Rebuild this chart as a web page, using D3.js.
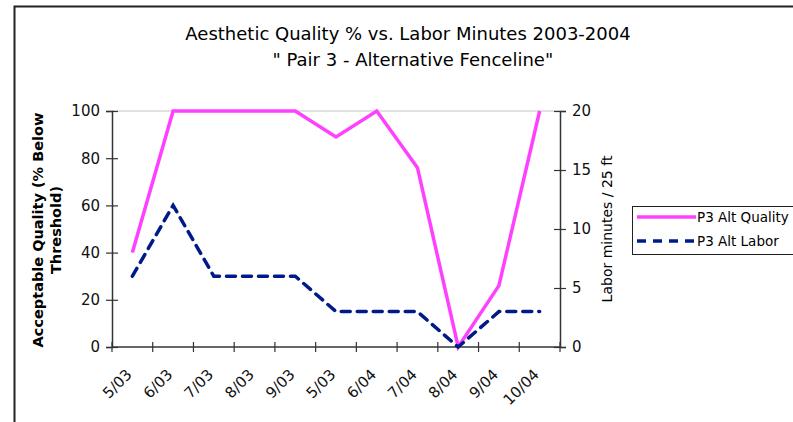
<!DOCTYPE html>
<html>
<head>
<meta charset="utf-8">
<script src="https://cdn.jsdelivr.net/npm/d3@7/dist/d3.min.js"></script>
<style>
  html, body { margin: 0; padding: 0; background: #fff; }
  svg { display: block; font-family: "DejaVu Sans", sans-serif; }
</style>
</head>
<body>
<svg id="chart" width="793" height="422"></svg>
<script>
// Monthly survey periods
const months = ["5/03", "6/03", "7/03", "8/03", "9/03", "5/03", "6/04", "7/04", "8/04", "9/04", "10/04"];
// Acceptable quality, % below threshold (left axis)
const qualityValues = [40, 100, 100, 100, 100, 89, 100, 76, 0, 26, 100];
// Labor minutes per 25 ft (right axis)
const laborValues = [6, 12, 6, 6, 6, 3, 3, 3, 0, 3, 3];
const leftTicks = [0, 20, 40, 60, 80, 100];
const rightTicks = [0, 5, 10, 15, 20];
const seriesNames = ["P3 Alt Quality", "P3 Alt Labor"];

const svg = d3.select("#chart");
const plot = { left: 112, right: 560, top: 111, bottom: 347 };

// Outer chart frame (only top and left edges fall inside the view)
svg.append("path")
  .attr("d", "M14.5,422 L14.5,6.5 L793,6.5")
  .attr("fill", "none").attr("stroke", "#222").attr("stroke-width", 2);

// Title
const title = svg.append("text").attr("text-anchor", "middle")
  .attr("font-size", 18).attr("fill", "#000");
title.append("tspan").attr("x", 408).attr("y", 40)
  .text("Aesthetic Quality % vs. Labor Minutes 2003-2004");
title.append("tspan").attr("x", 410).attr("y", 66)
  .text("\u00a0\" Pair 3 - Alternative Fenceline\"");

const x = d3.scaleBand().domain(d3.range(months.length))
  .range([plot.left, plot.right]).paddingInner(0).paddingOuter(0);
const yL = d3.scaleLinear().domain([0, 100]).range([plot.bottom, plot.top]);
const yR = d3.scaleLinear().domain([0, 20]).range([plot.bottom, plot.top]);
const cx = i => x(i) + x.bandwidth() / 2;

// Major gridline at the top value
svg.append("line")
  .attr("x1", plot.left).attr("x2", plot.right)
  .attr("y1", yL(100)).attr("y2", yL(100))
  .attr("stroke", "#c4c4c4").attr("stroke-width", 1);

const axisColor = "#333";

// Left axis
const gL = svg.append("g").attr("transform", `translate(${plot.left},0)`)
  .call(d3.axisLeft(yL).tickValues(leftTicks).tickSize(6).tickPadding(6));
gL.selectAll(".tick line").attr("x2", 6).attr("x1", -6);
// Right axis
const gR = svg.append("g").attr("transform", `translate(${plot.right},0)`)
  .call(d3.axisRight(yR).tickValues(rightTicks).tickSize(6).tickPadding(6));
gR.selectAll(".tick line").attr("x1", -6).attr("x2", 6);
// Bottom axis: ticks at category boundaries
const boundaries = d3.range(months.length + 1).map(i => plot.left + i * x.bandwidth());
const gB = svg.append("g");
gB.append("line").attr("x1", plot.left).attr("x2", plot.right)
  .attr("y1", plot.bottom).attr("y2", plot.bottom)
  .attr("stroke", axisColor).attr("stroke-width", 1.5);
gB.selectAll("line.tk").data(boundaries).join("line").attr("class", "tk")
  .attr("x1", d => d).attr("x2", d => d)
  .attr("y1", plot.bottom - 5).attr("y2", plot.bottom + 5)
  .attr("stroke", axisColor).attr("stroke-width", 1.2);
gB.selectAll("text").data(months).join("text")
  .attr("transform", (d, i) => `translate(${cx(i) - 7},${plot.bottom + 21}) rotate(-45)`)
  .attr("text-anchor", "end").attr("dy", "0.7em")
  .attr("font-size", 15).attr("fill", "#111")
  .text(d => d);

[gL, gR].forEach(g => {
  g.select(".domain").attr("stroke", axisColor).attr("stroke-width", 1.5);
  g.selectAll(".tick line").attr("stroke", axisColor).attr("stroke-width", 1.2);
  g.selectAll(".tick text").attr("font-size", 15).attr("fill", "#111")
    .attr("font-family", "DejaVu Sans, sans-serif");
});

// Axis titles
const lt = svg.append("text").attr("transform", "translate(48,230) rotate(-90)")
  .attr("text-anchor", "middle").attr("font-size", 14.5).attr("font-weight", "bold");
lt.append("tspan").attr("x", 0).attr("y", -5).text("Acceptable Quality (% Below");
lt.append("tspan").attr("x", 0).attr("y", 13).text("Threshold)");
svg.append("text").attr("transform", "translate(612,229) rotate(-90)")
  .attr("text-anchor", "middle").attr("font-size", 14)
  .text("Labor minutes / 25 ft");

// Series lines
const qualityLine = d3.line().x((d, i) => cx(i)).y(d => yL(d));
const laborLine = d3.line().x((d, i) => cx(i)).y(d => yR(d));
svg.append("path").datum(qualityValues).attr("d", qualityLine)
  .attr("fill", "none").attr("stroke", "#ff40ff").attr("stroke-width", 3.5)
  .attr("stroke-linejoin", "miter");
svg.append("path").datum(laborValues).attr("d", laborLine)
  .attr("fill", "none").attr("stroke", "#001a8a").attr("stroke-width", 3.5)
  .attr("stroke-dasharray", "9,7").attr("stroke-linecap", "round");

// Legend
const lg = svg.append("g");
lg.append("rect").attr("x", 632.5).attr("y", 206.5).attr("width", 170).attr("height", 48)
  .attr("fill", "#fff").attr("stroke", "#222").attr("stroke-width", 1);
const legendStyles = [
  { color: "#ff40ff", dash: null, y: 217 },
  { color: "#001a8a", dash: "9,7", y: 241 }
];
seriesNames.forEach((name, i) => {
  const s = legendStyles[i];
  lg.append("line").attr("x1", 637).attr("x2", 696).attr("y1", s.y).attr("y2", s.y)
    .attr("stroke", s.color).attr("stroke-width", 3.5)
    .attr("stroke-dasharray", s.dash);
  lg.append("text").attr("x", 697).attr("y", s.y + 5).attr("font-size", 13.5)
    .attr("fill", "#000").text(name);
});
</script>
</body>
</html>
